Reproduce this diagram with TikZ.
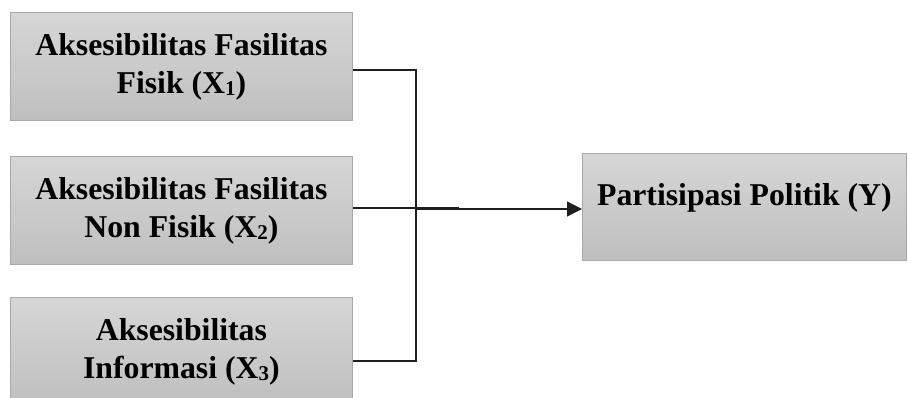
\documentclass[tikz,border=0pt]{standalone}
\usepackage{fontspec}
\setmainfont{Liberation Serif}
\usetikzlibrary{arrows.meta,calc}
\definecolor{boxtop}{RGB}{214,214,214}
\definecolor{boxbot}{RGB}{191,191,191}
\definecolor{boxedge}{RGB}{168,168,168}
\newcommand{\subdig}[1]{\raisebox{-2pt}{\fontsize{21}{21}\selectfont #1}}
\begin{document}
\begin{tikzpicture}[x=1pt,y=-1pt,
  boxfont/.style={font=\fontsize{31.75}{38}\selectfont\bfseries},
  box/.style={draw=boxedge,line width=0.8pt,top color=boxtop,bottom color=boxbot,
    minimum width=342pt,minimum height=108pt,anchor=north west,inner sep=0pt,
    align=center,boxfont},
  conn/.style={line width=1.3pt,draw=black!88}]
\useasboundingbox (0,0) rectangle (908,397);

\node[box] (b1) at (10,12) {Aksesibilitas Fasilitas\\Fisik (X\subdig{1})};
\node[box] (b2) at (10,156) {Aksesibilitas Fasilitas\\Non Fisik (X\subdig{2})};
\node[box] (b3) at (10,297) {Aksesibilitas\\Informasi (X\subdig{3})};

\node[box,minimum width=324pt,minimum height=107pt] (y) at (582,153) {};
\node[boxfont,anchor=base,inner sep=0pt] (yt) at ($(y.north)+(0,52)$) {Partisipasi Politik (Y)};

\coordinate (j1) at (416,70);
\coordinate (j3) at (416,361);
\coordinate (j2) at (459,208);
\coordinate (a0) at (416,209);

\draw[conn] (b1.east |- j1) -- (j1) -- (j3) -- (b3.east |- j3);
\draw[conn] (b2.east |- j2) -- (j2);
\draw[conn,-{Triangle[length=15pt,width=15pt]}] (a0) -- (y.west |- a0);
\end{tikzpicture}
\end{document}
